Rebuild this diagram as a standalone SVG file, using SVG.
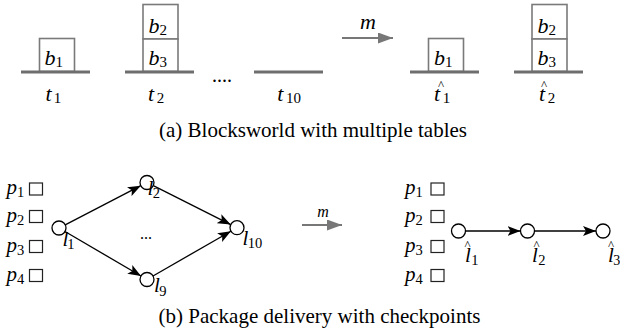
<svg xmlns="http://www.w3.org/2000/svg" width="620" height="336" viewBox="0 0 620 336" font-family="Liberation Serif">
  <defs>
    <marker id="head" markerUnits="userSpaceOnUse" markerWidth="13" markerHeight="10" refX="13" refY="5" orient="auto">
      <path d="M0,0 L13,5 L0,10 L3,5 z" fill="#000"/>
    </marker>
    <marker id="grayhead" markerUnits="userSpaceOnUse" markerWidth="15" markerHeight="11" refX="15" refY="5.5" orient="auto">
      <path d="M0,0 L15,5.5 L0,11 z" fill="#777"/>
    </marker>
  </defs>

  <!-- (a) blocksworld: tables drawn as thick grey bars, blocks as grey squares -->
  <g id="table-t1">
    <rect x="39.5" y="38.5" width="35" height="33" fill="#fff" stroke="#7a7a7a" stroke-width="1.6"/>
    <text font-family="Liberation Serif" font-style="italic" font-size="22" x="44.5" y="65">b<tspan font-style="normal" font-size="15" dy="2">1</tspan></text>
    <line x1="21" y1="72" x2="90" y2="72" stroke="#6e6e6e" stroke-width="3.2"/>
    <text font-family="Liberation Serif" font-style="italic" font-size="22" x="45.5" y="101">t<tspan font-style="normal" font-size="15" dx="2" dy="2">1</tspan></text>
  </g>
  <g id="table-t2">
    <rect x="143" y="4.5" width="35" height="34.5" fill="#fff" stroke="#7a7a7a" stroke-width="1.6"/>
    <rect x="143" y="39" width="35" height="32.5" fill="#fff" stroke="#7a7a7a" stroke-width="1.6"/>
    <text font-family="Liberation Serif" font-style="italic" font-size="22" x="148.5" y="32.5">b<tspan font-style="normal" font-size="15" dy="2">2</tspan></text>
    <text font-family="Liberation Serif" font-style="italic" font-size="22" x="148.5" y="64.5">b<tspan font-style="normal" font-size="15" dy="2">3</tspan></text>
    <line x1="125" y1="72" x2="194" y2="72" stroke="#6e6e6e" stroke-width="3.2"/>
    <text font-family="Liberation Serif" font-style="italic" font-size="22" x="148" y="101">t<tspan font-style="normal" font-size="15" dx="2.5" dy="2">2</tspan></text>
  </g>
  <text font-family="Liberation Serif" font-size="20" x="212" y="82">....</text>
  <g id="table-t10">
    <line x1="254" y1="72" x2="323" y2="72" stroke="#6e6e6e" stroke-width="3.2"/>
    <text font-family="Liberation Serif" font-style="italic" font-size="22" x="277.3" y="101">t<tspan font-style="normal" font-size="15" dx="2.5" dy="2">10</tspan></text>
  </g>

  <g id="map-a">
    <line x1="342" y1="38" x2="393" y2="38" stroke="#777" stroke-width="2" marker-end="url(#grayhead)"/>
    <text font-family="Liberation Serif" font-style="italic" font-size="22" x="368" y="29" text-anchor="middle">m</text>
  </g>

  <g id="table-t1hat">
    <rect x="428.5" y="38.5" width="35" height="33" fill="#fff" stroke="#7a7a7a" stroke-width="1.6"/>
    <text font-family="Liberation Serif" font-style="italic" font-size="22" x="434" y="65">b<tspan font-style="normal" font-size="15" dy="2">1</tspan></text>
    <line x1="410" y1="72" x2="479" y2="72" stroke="#6e6e6e" stroke-width="3.2"/>
    <text font-family="Liberation Serif" font-style="italic" font-size="22" x="434" y="101">t<tspan font-style="normal" font-size="15" dx="2.5" dy="2">1</tspan></text>
    <text font-family="Liberation Serif" font-size="13" x="441" y="88.5" text-anchor="middle">^</text>
  </g>
  <g id="table-t2hat">
    <rect x="532" y="4.5" width="35" height="34.5" fill="#fff" stroke="#7a7a7a" stroke-width="1.6"/>
    <rect x="532" y="39" width="35" height="32.5" fill="#fff" stroke="#7a7a7a" stroke-width="1.6"/>
    <text font-family="Liberation Serif" font-style="italic" font-size="22" x="537.5" y="32.5">b<tspan font-style="normal" font-size="15" dy="2">2</tspan></text>
    <text font-family="Liberation Serif" font-style="italic" font-size="22" x="537.5" y="64.5">b<tspan font-style="normal" font-size="15" dy="2">3</tspan></text>
    <line x1="514" y1="72" x2="583" y2="72" stroke="#6e6e6e" stroke-width="3.2"/>
    <text font-family="Liberation Serif" font-style="italic" font-size="22" x="539" y="101">t<tspan font-style="normal" font-size="15" dx="2.5" dy="2">2</tspan></text>
    <text font-family="Liberation Serif" font-size="13" x="544" y="88.5" text-anchor="middle">^</text>
  </g>

  <text font-family="Liberation Serif" font-size="21" x="313" y="137" text-anchor="middle">(a) Blocksworld with multiple tables</text>

  <!-- (b) package delivery: packages as small squares, locations as circles -->
  <g id="packages-left" fill="#fff" stroke="#222" stroke-width="1.2">
    <rect x="29.5" y="183" width="13" height="12"/>
    <rect x="29.5" y="210.5" width="13" height="12"/>
    <rect x="29.5" y="240.5" width="13" height="12"/>
    <rect x="29.5" y="269.5" width="13" height="12"/>
  </g>
  <g id="package-labels-left" font-family="Liberation Serif" font-style="italic" font-size="21">
    <text font-family="Liberation Serif" x="6.5" y="193.5">p<tspan font-style="normal" font-size="14.5" dy="3">1</tspan></text>
    <text font-family="Liberation Serif" x="6.5" y="222">p<tspan font-style="normal" font-size="14.5" dy="3">2</tspan></text>
    <text font-family="Liberation Serif" x="6.5" y="251.5">p<tspan font-style="normal" font-size="14.5" dy="3">3</tspan></text>
    <text font-family="Liberation Serif" x="6.5" y="280.5">p<tspan font-style="normal" font-size="14.5" dy="3">4</tspan></text>
  </g>

  <g id="edges-left" stroke="#000" stroke-width="1.3" fill="none" marker-end="url(#head)">
    <line x1="65.2" y1="224.8" x2="140.8" y2="185.7"/>
    <line x1="65" y1="231.5" x2="141" y2="276"/>
    <line x1="153.3" y1="185.6" x2="230.7" y2="224.6"/>
    <line x1="153" y1="276" x2="230.9" y2="231.2"/>
  </g>

  <g id="l1">
    <circle cx="59" cy="228" r="7" fill="#fff" stroke="#000" stroke-width="1.3"/>
    <text font-family="Liberation Serif" font-style="italic" font-size="21" x="62.5" y="246">l<tspan font-style="normal" font-size="14.5" dx="-1" dy="3">1</tspan></text>
  </g>
  <g id="l2">
    <circle cx="147" cy="182.5" r="7" fill="#fff" stroke="#000" stroke-width="1.3"/>
    <text font-family="Liberation Serif" font-style="italic" font-size="21" x="147.5" y="195">l<tspan font-style="normal" font-size="14.5" dx="-0.5" dy="3">2</tspan></text>
  </g>
  <g id="l9">
    <circle cx="147" cy="279.5" r="7" fill="#fff" stroke="#000" stroke-width="1.3"/>
    <text font-family="Liberation Serif" font-style="italic" font-size="21" x="154" y="292">l<tspan font-style="normal" font-size="14.5" dx="-0.5" dy="4">9</tspan></text>
  </g>
  <g id="l10">
    <circle cx="237" cy="227.7" r="7" fill="#fff" stroke="#000" stroke-width="1.3"/>
    <text font-family="Liberation Serif" font-style="italic" font-size="21" x="242.5" y="245">l<tspan font-style="normal" font-size="14.5" dx="-0.5" dy="3">10</tspan></text>
  </g>
  <text font-family="Liberation Serif" font-size="16" x="140" y="239">...</text>

  <g id="map-b">
    <line x1="302" y1="225" x2="342" y2="225" stroke="#777" stroke-width="2" marker-end="url(#grayhead)"/>
    <text font-family="Liberation Serif" font-style="italic" font-size="16" x="323" y="217" text-anchor="middle">m</text>
  </g>

  <g id="packages-right" fill="#fff" stroke="#222" stroke-width="1.2">
    <rect x="431" y="183" width="13" height="12"/>
    <rect x="431" y="210.5" width="13" height="12"/>
    <rect x="431" y="240.5" width="13" height="12"/>
    <rect x="431" y="269.5" width="13" height="12"/>
  </g>
  <g id="package-labels-right" font-family="Liberation Serif" font-style="italic" font-size="21">
    <text font-family="Liberation Serif" x="405" y="193.5">p<tspan font-style="normal" font-size="14.5" dy="3">1</tspan></text>
    <text font-family="Liberation Serif" x="405" y="222">p<tspan font-style="normal" font-size="14.5" dy="3">2</tspan></text>
    <text font-family="Liberation Serif" x="405" y="251.5">p<tspan font-style="normal" font-size="14.5" dy="3">3</tspan></text>
    <text font-family="Liberation Serif" x="405" y="280.5">p<tspan font-style="normal" font-size="14.5" dy="3">4</tspan></text>
  </g>

  <g id="edges-right" stroke="#000" stroke-width="1.3" fill="none" marker-end="url(#head)">
    <line x1="465.5" y1="231" x2="520.5" y2="231"/>
    <line x1="534.5" y1="231" x2="596" y2="231"/>
  </g>

  <g id="l1hat">
    <circle cx="458.5" cy="231" r="7" fill="#fff" stroke="#000" stroke-width="1.3"/>
    <text font-family="Liberation Serif" font-style="italic" font-size="21" x="465" y="262">l<tspan font-style="normal" font-size="14.5" dx="0.5" dy="3">1</tspan></text>
    <text font-family="Liberation Serif" font-size="13" x="467.5" y="249" text-anchor="middle">^</text>
  </g>
  <g id="l2hat">
    <circle cx="527.5" cy="231" r="7" fill="#fff" stroke="#000" stroke-width="1.3"/>
    <text font-family="Liberation Serif" font-style="italic" font-size="21" x="532" y="262">l<tspan font-style="normal" font-size="14.5" dx="0.5" dy="3">2</tspan></text>
    <text font-family="Liberation Serif" font-size="13" x="536.5" y="249" text-anchor="middle">^</text>
  </g>
  <g id="l3hat">
    <circle cx="603" cy="231" r="7" fill="#fff" stroke="#000" stroke-width="1.3"/>
    <text font-family="Liberation Serif" font-style="italic" font-size="21" x="608" y="262">l<tspan font-style="normal" font-size="14" dx="-0.5" dy="3">3</tspan></text>
    <text font-family="Liberation Serif" font-size="13" x="611" y="249" text-anchor="middle">^</text>
  </g>

  <text font-family="Liberation Serif" font-size="21" x="319.5" y="323" text-anchor="middle">(b) Package delivery with checkpoints</text>
</svg>
